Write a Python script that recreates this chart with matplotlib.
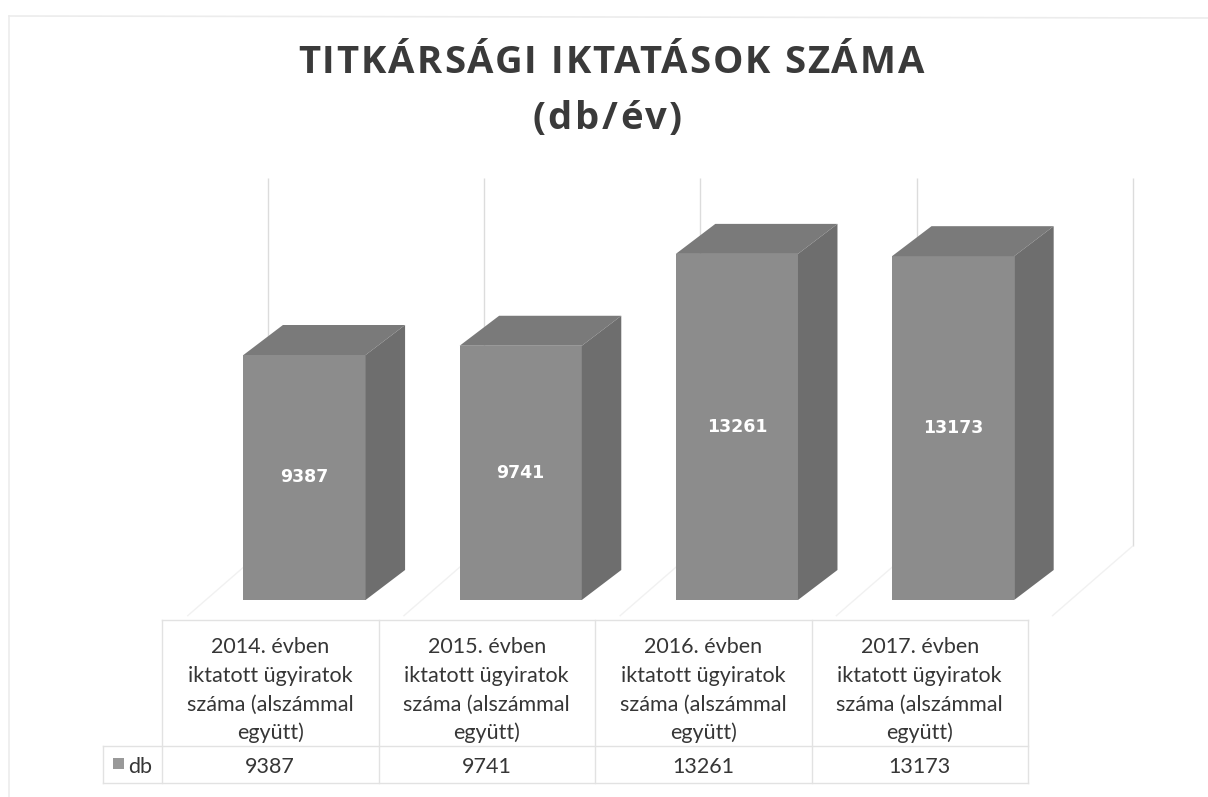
import matplotlib
matplotlib.use("Agg")
import matplotlib.pyplot as plt
from matplotlib.patches import Polygon, Rectangle
from matplotlib.lines import Line2D
from matplotlib.font_manager import FontProperties

# ---------------- data ----------------
categories = [
    "2014. évben\niktatott ügyiratok\nszáma (alszámmal\negyütt)",
    "2015. évben\niktatott ügyiratok\nszáma (alszámmal\negyütt)",
    "2016. évben\niktatott ügyiratok\nszáma (alszámmal\negyütt)",
    "2017. évben\niktatott ügyiratok\nszáma (alszámmal\negyütt)",
]
values = [9387, 9741, 13261, 13173]
series_name = "db"
title_line1 = "TITKÁRSÁGI IKTATÁSOK SZÁMA"
title_line2 = "(db/év)"

# ---------------- figure ----------------
W, H = 1208, 797
fig = plt.figure(figsize=(W / 100, H / 100), dpi=100)
fig.patch.set_facecolor("white")


def fx(px):
    return px / W


def fy(py):
    return 1 - py / H


# plot axes in pixel layout
ax_l, ax_r, ax_t, ax_b = 165, 1140, 178, 620
ax = fig.add_axes([fx(ax_l), fy(ax_b), (ax_r - ax_l) / W, (ax_b - ax_t) / H])
ax.set_axis_off()

px_per_x = 216.2
x0_px = 304.5
px_per_y = 0.0261
y0_px = 600
ax.set_xlim((ax_l - x0_px) / px_per_x, (ax_r - x0_px) / px_per_x)
ax.set_ylim((y0_px - ax_b) / px_per_y, (y0_px - ax_t) / px_per_y)

bar_w = 0.565
ddx = 39.5 / px_per_x        # bar depth (x)
ddy = 30 / px_per_y          # bar depth (y)
dwx = 71.5 / px_per_x        # back wall depth (x)
dwy = 54 / px_per_y          # back wall depth (y)

front_c = "#8c8c8c"
top_c = "#7a7a7a"
side_c = "#6e6e6e"
grid_c = "#dcdcdc"

n = len(values)
xs = list(range(n))
ytop = ax.get_ylim()[1]

# back-wall category gridlines
grid_x = [i - 0.5 + dwx for i in range(n + 1)]
ax.vlines(grid_x, dwy, ytop, colors=grid_c, linewidth=1.0, zorder=1)
# faint floor lines
for gx in grid_x:
    ax.add_line(Line2D([gx, gx - dwx - 0.04], [dwy, -600], color="#f1f1f1",
                       linewidth=1.0, zorder=1))

# bars
ax.bar(xs, values, width=bar_w, color=front_c, edgecolor="none", zorder=3)
for x, v in zip(xs, values):
    l, r = x - bar_w / 2, x + bar_w / 2
    top = Polygon([(l, v), (r, v), (r + ddx, v + ddy), (l + ddx, v + ddy)],
                  closed=True, facecolor=top_c, edgecolor="none", zorder=3)
    side = Polygon([(r, 0), (r + ddx, ddy), (r + ddx, v + ddy), (r, v)],
                   closed=True, facecolor=side_c, edgecolor="none", zorder=3)
    ax.add_patch(top)
    ax.add_patch(side)
    ax.text(x, v / 2, f"{v}", ha="center", va="center", color="white",
            fontsize=12.5, fontweight="bold", family="DejaVu Sans", zorder=5)


# ---------------- title (letter-spaced) ----------------
renderer = fig.canvas.get_renderer()


def ink_w(s, prop):
    if not s.strip():
        return 0.0
    w, h, d = renderer.get_text_width_height_descent(s, prop, ismath=False)
    return w


def tracked_text(s, cx_px, cy_px, size, target_w, family, weight, color):
    prop = FontProperties(family=family, weight=weight, size=size)
    natural = ink_w(s, prop)
    track = (target_w - natural) / max(len(s) - 1, 1)
    start = cx_px - target_w / 2
    for k, c in enumerate(s):
        if c == " ":
            continue
        left = ink_w(s[:k + 1], prop) - ink_w(c, prop)
        fig.text(fx(start + left + track * k), fy(cy_px), c, ha="left",
                 va="center", fontproperties=prop, color=color)


title_c = "#3a3a3a"
tracked_text(title_line1, 611, 63, 27.5, 626, "Open Sans", "bold", title_c)
tracked_text(title_line2, 607, 119, 27.5, 150, "Open Sans", "bold", title_c)

# ---------------- data table ----------------
tcol = "#363636"
line_c = "#e2e2e2"
tab_l, tab_r = 162, 1028
tab_t, tab_b = 620, 783
row_sep = 746
leg_l = 103
col_edges = [tab_l + (tab_r - tab_l) * i / n for i in range(n + 1)]


def hline(y, x1, x2):
    fig.add_artist(Line2D([fx(x1), fx(x2)], [fy(y), fy(y)], color=line_c,
                          linewidth=1.0, transform=fig.transFigure))


def vline(x, y1, y2):
    fig.add_artist(Line2D([fx(x), fx(x)], [fy(y1), fy(y2)], color=line_c,
                          linewidth=1.0, transform=fig.transFigure))


hline(tab_t, tab_l, tab_r)
hline(row_sep, leg_l, tab_r)
hline(tab_b, leg_l, tab_r)
for e in col_edges:
    vline(e, tab_t, tab_b)
vline(leg_l, row_sep, tab_b)

tsize = 15.5
line_y = [647, 676, 705, 733]
for i, (cat, v) in enumerate(zip(categories, values)):
    cx = (col_edges[i] + col_edges[i + 1]) / 2
    for ln, yy in zip(cat.split("\n"), line_y):
        fig.text(fx(cx), fy(yy), ln, ha="center", va="center", fontsize=tsize,
                 family="Lato", color=tcol)
    fig.text(fx(cx), fy(767), f"{v}", ha="center", va="center", fontsize=tsize,
             family="Lato", color=tcol)

# legend key
fig.add_artist(Rectangle((fx(113), fy(769)), 11 / W, 11 / H, facecolor="#999999",
                         edgecolor="none", transform=fig.transFigure))
fig.text(fx(128), fy(767), series_name, ha="left", va="center", fontsize=tsize,
         family="Lato", color=tcol)

# faint outer chart border (top/left)
fig.add_artist(Line2D([fx(9), fx(1208)], [fy(16), fy(18)], color="#ececec",
                      linewidth=1.2, transform=fig.transFigure))
fig.add_artist(Line2D([fx(9), fx(9)], [fy(16), fy(797)], color="#ececec",
                      linewidth=1.2, transform=fig.transFigure))

fig.savefig("out.png", dpi=100, facecolor="white")
